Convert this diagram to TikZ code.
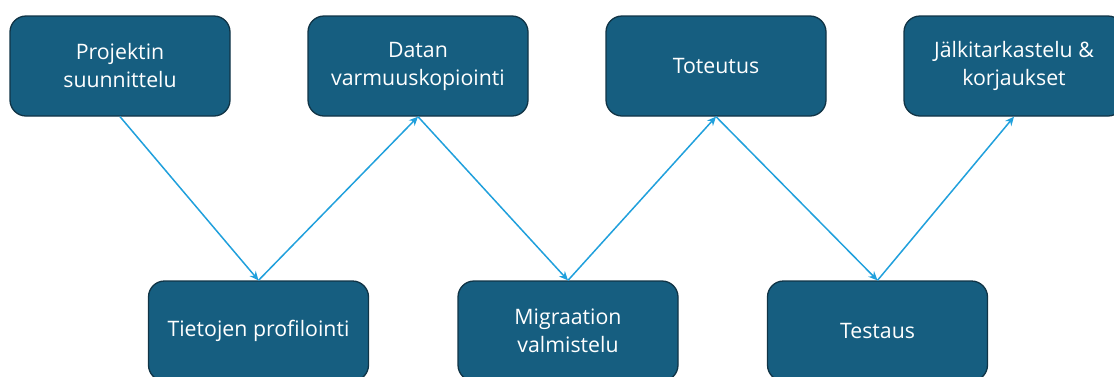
\documentclass[tikz,border=0pt]{standalone}
\usepackage{fontspec}
\setmainfont{Open Sans}
\usetikzlibrary{arrows.meta,positioning}

\definecolor{boxfill}{RGB}{22,94,128}
\definecolor{boxline}{RGB}{16,52,70}
\definecolor{flow}{RGB}{32,160,220}

\tikzset{
    phase/.style={draw=boxline, line width=1.3pt, fill=boxfill, rounded corners=16pt,
        minimum width=220pt, minimum height=100pt, align=center, text=white,
        font=\fontsize{21.3}{28}\selectfont},
    link/.style={draw=flow, line width=1.5pt, -{Stealth[length=9pt,width=8pt]}}
}

\begin{document}
\begin{tikzpicture}[x=1pt,y=1pt,node distance=298pt,on grid]
    \useasboundingbox (0,0) rectangle (1114,-376);
    \clip (0,0) rectangle (1114,-376);
    \node[phase] (p1) at (120,-66) {Projektin\\suunnittelu};
    \node[phase, right=of p1] (p2) {Datan\\varmuuskopiointi};
    \node[phase, right=of p2] (p3) {Toteutus};
    \node[phase, right=of p3] (p4) {Jälkitarkastelu \&\\korjaukset};
    \node[phase] (q1) at (258.5,-331) {Tietojen profilointi};
    \node[phase, right=309.5pt of q1] (q2) {Migraation\\valmistelu};
    \node[phase, right=309.5pt of q2] (q3) {Testaus};
    \draw[link] (p1.south) -- (q1.north);
    \draw[link] (q1.north) -- (p2.south);
    \draw[link] (p2.south) -- (q2.north);
    \draw[link] (q2.north) -- (p3.south);
    \draw[link] (p3.south) -- (q3.north);
    \draw[link] (q3.north) -- (p4.south);
\end{tikzpicture}
\end{document}
